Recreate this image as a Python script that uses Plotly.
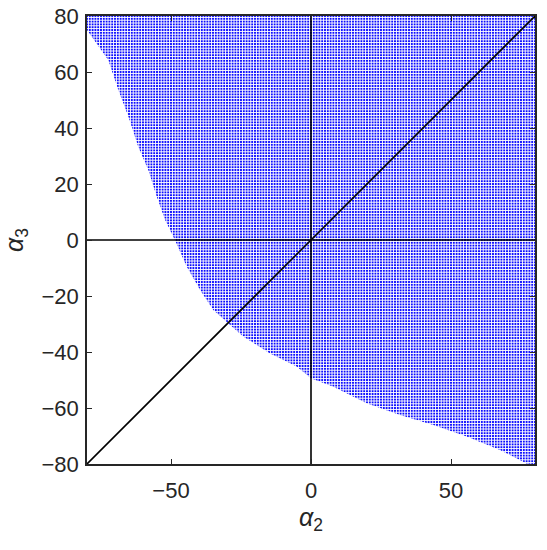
import plotly.graph_objects as go

# lower edge of the feasible (alpha2, alpha3) region
alpha2_edge = [-80, -80, -72.4, -68.8, -65.2, -61.7, -58.1, -55.1, -52.1, -48.6, -44.4, -39.6,
               -34.9, -29.5, -24.2, -14.6, -5.1, 0, 8, 19.9, 31.8, 43.7, 55.6, 67.5, 77, 80]
alpha3_edge = [80, 75, 64.3, 53.6, 44, 33.3, 25, 15.5, 7.1, 0, -9.5, -17.9,
               -25, -29.8, -34.5, -40.5, -45.2, -49.4, -52.4, -58.3, -62.5, -66.1, -70.2, -75, -79.8, -80]
# region closes through the top-right corner of the box
alpha2_corner = [80, -80]
alpha3_corner = [80, 80]

span = [-80, 80]
zero = [0, 0]

x_ticks = [-50, 0, 50]
y_ticks = [-80, -60, -40, -20, 0, 20, 40, 60, 80]

FONT = 'Liberation Sans, Arial, Helvetica, sans-serif'
AXIS_COLOR = '#262626'

fig = go.Figure()

# feasible region as blue dot grid
fig.add_trace(go.Scatter(x=alpha2_edge + alpha2_corner, y=alpha3_edge + alpha3_corner,
                         mode='lines', fill='toself', line=dict(width=0, color='blue'),
                         fillcolor='blue',
                         fillpattern=dict(shape='+', fgcolor='white', bgcolor='blue',
                                          size=2.8, solidity=0.6, fillmode='replace'),
                         hoverinfo='skip', showlegend=False))

# reference lines: alpha2 = 0, alpha3 = 0, alpha3 = alpha2
line_style = dict(color='black', width=1.6)
fig.add_trace(go.Scatter(x=zero, y=span, mode='lines', line=line_style, showlegend=False))
fig.add_trace(go.Scatter(x=span, y=zero, mode='lines', line=line_style, showlegend=False))
fig.add_trace(go.Scatter(x=span, y=span, mode='lines', line=line_style, showlegend=False))

axis_common = dict(range=span, showline=True, mirror='ticks', linecolor=AXIS_COLOR, linewidth=1.5,
                   ticks='inside', ticklen=5, tickwidth=1.2, tickcolor=AXIS_COLOR,
                   showgrid=False, zeroline=False, automargin=False,
                   tickfont=dict(family=FONT, size=22, color=AXIS_COLOR))

fig.update_xaxes(**axis_common, tickvals=x_ticks, ticklabelstandoff=6,
                 title=dict(text='<i>α</i><sub>2</sub>', standoff=4,
                            font=dict(family=FONT, size=25, color=AXIS_COLOR)))
fig.update_yaxes(**axis_common, tickvals=y_ticks, ticklabelstandoff=2,
                 title=dict(text='<i>α</i><sub>3</sub>', standoff=14,
                            font=dict(family=FONT, size=25, color=AXIS_COLOR)))

fig.update_layout(width=547, height=550,
                  margin=dict(l=87, r=12, t=16, b=86),
                  plot_bgcolor='white', paper_bgcolor='white')

# drop the browser's default body margin so the figure sits at the page corner
fig.write_html("out.html", config={'displayModeBar': False},
               post_script="document.body.style.margin = '0';")
